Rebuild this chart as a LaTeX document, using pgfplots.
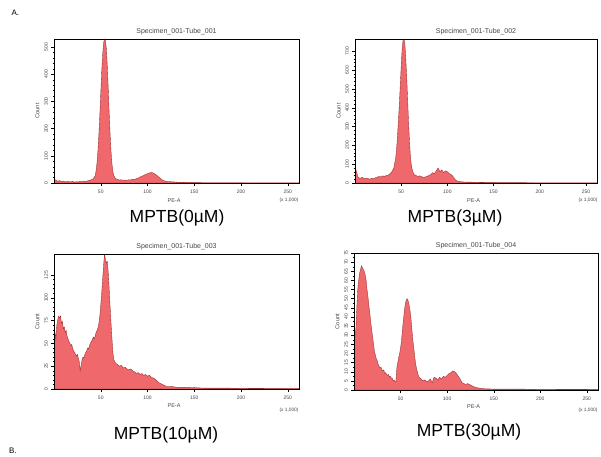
\documentclass[border=0pt]{standalone}
\usepackage{fontspec}
\setmainfont{Liberation Sans}
\usepackage{pgfplots}
\pgfplotsset{compat=1.18}

\definecolor{histfill}{RGB}{238,104,108}
\definecolor{histedge}{RGB}{150,45,45}
\definecolor{tickgray}{RGB}{70,70,70}

\pgfplotsset{
  flowaxis/.style={
    scale only axis,
    xmin=0, xmax=262, ymin=0,
    axis line style={black, line width=0.5pt},
    tick align=outside,
    xtick pos=bottom, ytick pos=left,
    xtick={50,100,150,200,250},
    minor x tick num=4,
    tick style={black, line width=0.35pt},
    major tick length=2.6pt, minor tick length=1.4pt,
    /pgf/number format/assume math mode=true,
    ticklabel style={font=\fontsize{5}{5.5}\selectfont, text=tickgray},
    xticklabel style={yshift=-1pt},
    yticklabel style={rotate=90, anchor=south, xshift=0pt},
    xlabel={PE-A}, ylabel={Count},
    every axis x label/.style={at={(axis description cs:0.49,-0.12)}, anchor=center,
      font=\fontsize{5.5}{6}\selectfont, text=tickgray},
    every axis y label/.style={at={(axis description cs:-0.068,0.5)}, rotate=90, anchor=center,
      font=\fontsize{5.8}{6}\selectfont, text=tickgray},
    title style={font=\fontsize{7}{8}\selectfont, text=tickgray, yshift=-5pt},
    axis on top,
  },
  hist/.style={fill=histfill, draw=histedge, line width=0.35pt},
}

\begin{document}
\begin{tikzpicture}[x=1pt,y=1pt]
\useasboundingbox (0,0) rectangle (601,456);

% ---------- MPTB 0 uM ----------
\begin{axis}[flowaxis, at={(54pt,273pt)}, anchor=south west,
  width=245pt, height=144pt, ymax=530,
  ytick={0,100,200,300,400,500}, minor y tick num=4,
  title={Specimen\_001-Tube\_001}]
\addplot[hist] coordinates {
(0,8) (2,12) (4,6) (6,9) (8,5) (10,7) (12,4) (14,6) (16,5) (18,4) (20,6) (22,3)
(24,5) (26,4) (28,6) (30,5) (32,7) (34,6) (36,8) (38,10) (40,12) (42,16) (44,26)
(45,45) (46,75) (47,120) (48,180) (49,250) (50,330) (51,410) (52,470) (53,515)
(54,530) (55,526) (56,495) (57,430) (58,350) (59,260) (60,180) (61,115) (62,70)
(63,42) (64,27) (65,20) (66,16) (68,13) (70,11) (72,12) (74,10) (76,11) (78,10)
(80,12) (82,11) (84,14) (86,13) (88,16) (90,18) (92,22) (94,25) (96,28) (98,32)
(100,34) (102,37) (104,39) (106,37) (108,33) (110,28) (112,22) (114,16) (116,11)
(118,8) (120,6) (124,5) (128,4) (132,3) (136,3) (140,2) (150,2) (160,1) (180,1)
(200,1) (220,0.5) (262,0.5)
} \closedcycle;
\end{axis}

% ---------- MPTB 3 uM ----------
\begin{axis}[flowaxis, at={(355pt,273pt)}, anchor=south west,
  width=242pt, height=144pt, ymax=765,
  ytick={0,100,200,300,400,500,600,700}, minor y tick num=4,
  title={Specimen\_001-Tube\_002}]
\addplot[hist] coordinates {
(0,40) (1,70) (2,55) (3,35) (4,28) (6,25) (8,30) (10,22) (12,26) (14,24) (16,20)
(18,25) (20,22) (22,28) (24,30) (26,35) (28,32) (30,38) (32,35) (34,40) (36,42)
(38,50) (40,60) (42,80) (44,130) (45,180) (46,250) (47,330) (48,420) (49,520)
(50,620) (51,710) (52,760) (53,765) (54,740) (55,660) (56,560) (57,440) (58,320)
(59,220) (60,140) (61,95) (62,70) (63,55) (64,45) (66,40) (68,35) (70,38) (72,34)
(74,30) (76,32) (78,35) (80,40) (82,45) (84,55) (86,50) (88,65) (90,80) (92,60)
(94,70) (96,55) (98,65) (100,60) (102,50) (104,45) (106,35) (108,20) (110,12)
(112,8) (116,6) (120,5) (130,4) (140,3) (150,3) (160,2) (180,2) (200,1) (220,1)
(262,1)
} \closedcycle;
\end{axis}

% ---------- MPTB 10 uM ----------
\begin{axis}[flowaxis, at={(54pt,67pt)}, anchor=south west,
  width=245pt, height=135pt, ymax=148,
  ytick={0,25,50,75,100,125}, minor y tick num=4,
  title={Specimen\_001-Tube\_003}]
\addplot[hist] coordinates {
(0,50) (1,62) (2,55) (3,70) (4,76) (5,80) (6,78) (7,80) (8,72) (9,74) (10,66)
(11,68) (12,62) (13,64) (14,58) (15,55) (16,52) (17,50) (18,47) (19,49) (20,44)
(21,42) (22,40) (23,38) (24,36) (25,38) (26,34) (27,30) (28,20) (29,26) (30,32)
(31,35) (32,34) (33,38) (34,40) (35,42) (36,45) (37,44) (38,48) (39,50) (40,52)
(41,54) (42,57) (43,55) (44,58) (45,62) (46,64) (47,67) (48,72) (49,80) (50,92)
(51,105) (52,120) (53,135) (54,148) (55,142) (56,138) (57,140) (58,128) (59,110)
(60,90) (61,72) (62,55) (63,40) (64,32) (65,30) (66,28) (68,27) (70,25) (72,26)
(74,23) (76,24) (78,22) (80,21) (82,22) (84,20) (86,19) (88,17) (90,18) (92,16)
(94,17) (96,15) (98,16) (100,14) (102,15) (104,13) (106,12) (108,11) (110,9)
(112,7) (114,6) (116,5) (118,4) (120,3) (125,3) (130,2) (140,2) (150,1.5)
(160,1) (180,1) (200,0.8) (230,0.6) (262,0.5)
} \closedcycle;
\end{axis}

% ---------- MPTB 30 uM ----------
\begin{axis}[flowaxis, at={(354pt,66pt)}, anchor=south west,
  width=244pt, height=137pt, ymax=75,
  ytick={0,5,...,75}, minor y tick num=1,
  title={Specimen\_001-Tube\_004}]
\addplot[hist] coordinates {
(0,20) (1,30) (2,33) (3,45) (4,55) (5,60) (6,64) (7,66) (8,68) (9,67) (10,66)
(11,65) (12,63) (13,60) (14,55) (15,51) (16,46) (17,42) (18,37) (19,33) (20,29)
(21,25) (22,21) (23,19) (24,17) (25,16) (26,14) (27,13) (28,12) (29,12.5) (30,11)
(31,10.5) (32,11) (33,9) (34,9.5) (35,8.5) (36,8) (37,8.5) (38,7) (39,7.5) (40,6.5)
(41,6.5) (42,5) (43,5.5) (44,4.5) (45,5) (46,12) (47,15) (48,18) (49,20) (50,23)
(51,27) (52,33) (53,38) (54,43) (55,47) (56,49) (57,50) (58,49) (59,47) (60,44)
(61,40) (62,34) (63,28) (64,24) (65,19) (66,15) (67,12) (68,10) (69,8) (70,7)
(72,6) (74,5) (76,5.5) (78,4.5) (80,5) (82,6) (84,4) (86,7) (88,6.5) (90,5.5)
(92,7) (94,6) (96,7.5) (98,7) (100,8) (102,9) (104,9.5) (106,10.5) (108,10)
(110,9) (112,7.5) (114,6) (116,4) (118,3.5) (120,3) (122,3.5) (124,3) (126,2.5)
(128,2) (130,1.5) (135,1) (140,0.7) (150,0.5) (170,0.5) (200,0.4) (262,0.3)
} \closedcycle;
\end{axis}

% scale notes under the x axes
\begin{scope}[font=\fontsize{4.8}{5.5}\selectfont, text=tickgray]
\node at (289,256) {(x 1,000)};
\node at (588,256) {(x 1,000)};
\node at (289,46) {(x 1,000)};
\node at (588,46) {(x 1,000)};
\end{scope}

% treatment labels
\begin{scope}[font=\fontsize{17.5}{20}\selectfont]
\node at (177,238) {MPTB(0µM)};
\node at (455,238) {MPTB(3µM)};
\node at (166,21) {MPTB(10µM)};
\node at (469,24) {MPTB(30µM)};
\end{scope}

% panel letters
\node[font=\fontsize{8}{9}\selectfont, anchor=west] at (8,443) {A.};
\node[font=\fontsize{8}{9}\selectfont, anchor=south west, inner sep=1pt] at (8,1) {B.};
\end{tikzpicture}
\end{document}
